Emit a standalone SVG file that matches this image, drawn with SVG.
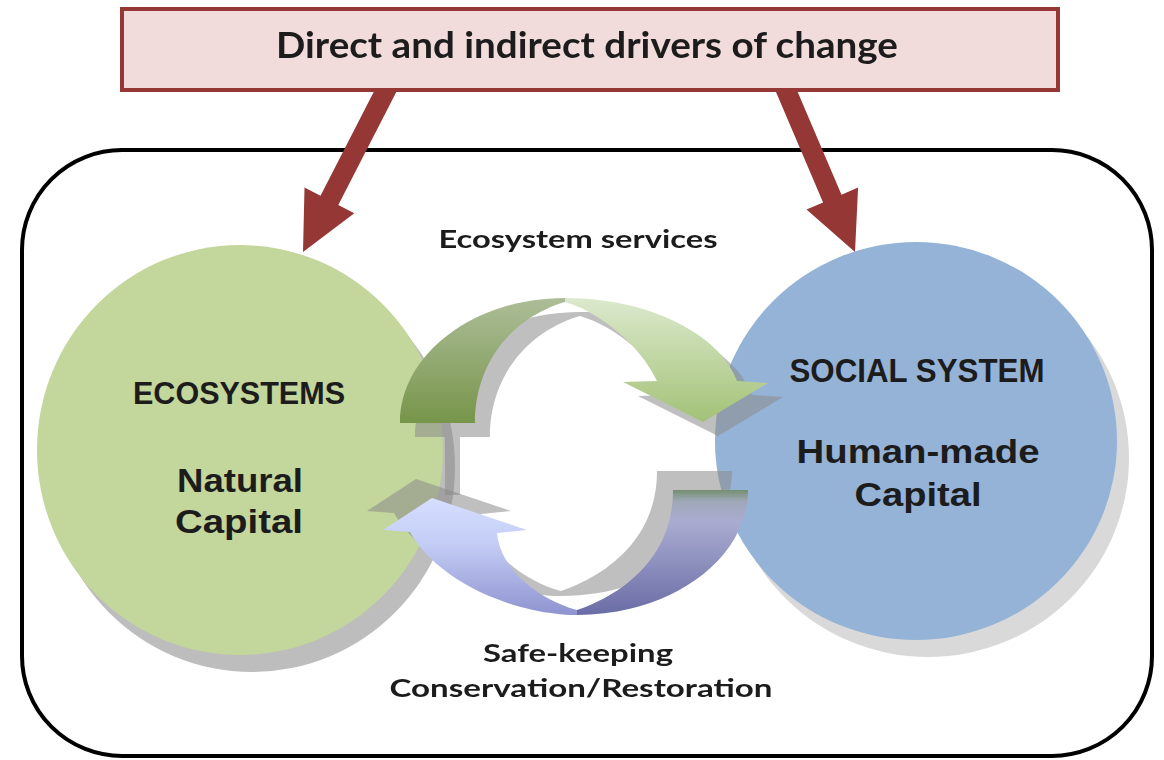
<svg xmlns="http://www.w3.org/2000/svg" width="1164" height="760" viewBox="0 0 1164 760">
<defs>
<style>
.t{font-family:"Liberation Sans","DejaVu Sans",Arial,sans-serif;font-weight:bold;fill:#1c1c1c;text-anchor:middle}
.l{font-family:Lato,"Liberation Sans",Arial,sans-serif;font-weight:bold;fill:#1c1c1c;text-anchor:middle}
.red{fill:#953735}
.shd{fill:#8a8a8a;opacity:0.55}
</style>
<linearGradient id="gDark" x1="0" y1="298" x2="0" y2="423" gradientUnits="userSpaceOnUse">
<stop offset="0" stop-color="#adbd98"/><stop offset="1" stop-color="#77954a"/>
</linearGradient>
<linearGradient id="gLight" x1="0" y1="298" x2="0" y2="422" gradientUnits="userSpaceOnUse">
<stop offset="0" stop-color="#dce9cd"/><stop offset="1" stop-color="#a3c277"/>
</linearGradient>
<linearGradient id="bLeft" x1="0" y1="498" x2="0" y2="615" gradientUnits="userSpaceOnUse">
<stop offset="0" stop-color="#d6dfff"/><stop offset="0.4" stop-color="#c3ccf5"/><stop offset="1" stop-color="#8f93cf"/>
</linearGradient>
<linearGradient id="bRight" x1="0" y1="490" x2="0" y2="615" gradientUnits="userSpaceOnUse">
<stop offset="0" stop-color="#758f70"/><stop offset="0.09" stop-color="#9fa8b8"/><stop offset="0.25" stop-color="#aaacd1"/><stop offset="1" stop-color="#6a6ca6"/>
</linearGradient>
</defs>
<rect width="1164" height="760" fill="#ffffff"/>

<g id="container">
<rect x="22" y="150" width="1130" height="606" rx="100" ry="100" fill="none" stroke="#000" stroke-width="4"/>
</g>

<g id="ecosystems">
<ellipse cx="252" cy="467" rx="203" ry="205" fill="#bdbdbd"/>
<ellipse cx="240" cy="450" rx="203" ry="205" fill="#c3d69b"/>
<text class="t" x="239" y="404" font-size="32" textLength="212" lengthAdjust="spacingAndGlyphs">ECOSYSTEMS</text>
<text class="t" x="240" y="492" font-size="34" textLength="126" lengthAdjust="spacingAndGlyphs">Natural</text>
<text class="t" x="239" y="533" font-size="34" textLength="128" lengthAdjust="spacingAndGlyphs">Capital</text>
</g>

<g id="social">
<ellipse cx="928" cy="458" rx="201" ry="199" fill="#d9d9d9"/>
<ellipse cx="916" cy="441" rx="201" ry="199" fill="#95b3d7"/>
<text class="t" x="917" y="382" font-size="33" textLength="255" lengthAdjust="spacingAndGlyphs">SOCIAL SYSTEM</text>
<text class="t" x="918" y="463" font-size="34" textLength="243" lengthAdjust="spacingAndGlyphs">Human-made</text>
<text class="t" x="918" y="506" font-size="34" textLength="127" lengthAdjust="spacingAndGlyphs">Capital</text>
</g>

<g id="cycle-arrows">
<g id="services-shadow" class="shd">
<path transform="translate(15,14)" d="M400,423 C400,354 474,298 565,298 C650,298 720,335 737,381 L768,383 L703,422 L623,382 L657,381 C640,345 600,312 565,302 C510,318 475,365 475,423 Z"/>
<rect x="445" y="437" width="15" height="58"/>
</g>
<g id="safekeeping-shadow" class="shd">
<path transform="translate(-16,-19)" d="M577,615 C520,615 440,585 410,532 L383,530 L432,498 L527,530 L497,533 C500,570 540,600 577,610 C620,595 673,560 673,490 L748,490 C748,559 671,615 577,615 Z"/>
</g>
<g id="services-arrow">
<path d="M400,423 C400,354 474,298 565,298 L565,302 C510,318 475,365 475,423 Z" fill="url(#gDark)"/>
<path d="M565,298 C650,298 720,335 737,381 L768,383 L703,422 L623,382 L657,381 C640,345 600,312 565,302 Z" fill="url(#gLight)"/>
</g>
<g id="safekeeping-arrow">
<path d="M577,615 C520,615 440,585 410,532 L383,530 L432,498 L527,530 L497,533 C500,570 540,600 577,610 Z" fill="url(#bLeft)"/>
<path d="M577,615 C671,615 748,559 748,490 L673,490 C673,560 620,595 577,610 Z" fill="url(#bRight)"/>
</g>
</g>

<g id="connectors">
<polygon class="red" points="381.7,76.5 399.5,85.7 338.3,205.0 354.3,213.2 303,252 304.5,187.6 320.5,195.8"/>
<polygon class="red" points="772.9,84.7 791.3,76.9 841.5,194.7 858.1,187.6 855,252 806.5,209.6 823.1,202.5"/>
<text class="l" x="578" y="248" font-size="25" textLength="279" lengthAdjust="spacingAndGlyphs">Ecosystem services</text>
<text class="l" x="578" y="662" font-size="25" textLength="190" lengthAdjust="spacingAndGlyphs">Safe-keeping</text>
<text class="l" x="581" y="697" font-size="25" textLength="383" lengthAdjust="spacingAndGlyphs">Conservation/Restoration</text>
</g>

<g id="drivers">
<rect x="122" y="9" width="936" height="81" fill="#f2dcdb" stroke="#953735" stroke-width="4"/>
<text class="l" x="587" y="58" font-size="36" textLength="622" lengthAdjust="spacingAndGlyphs">Direct and indirect drivers of change</text>
</g>
</svg>
